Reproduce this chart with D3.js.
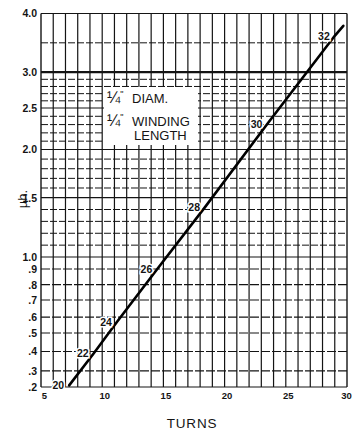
<!DOCTYPE html>
<html>
<head>
<meta charset="utf-8">
<script src="https://cdn.jsdelivr.net/npm/d3@7"></script>
<style>
  html, body { margin: 0; padding: 0; background: #fff; }
  svg { display: block; font-family: "Liberation Sans", Arial, sans-serif; }
</style>
</head>
<body>
<svg id="chart" width="356" height="431"></svg>
<script>
// Turns axis ticks
const turnTicks = [5, 10, 15, 20, 25, 30];
// Inductance axis (µh) ticks and their printed labels
const uhTicks = [0.2, 0.3, 0.4, 0.5, 0.6, 0.7, 0.8, 0.9, 1.0, 1.5, 2.0, 2.5, 3.0, 4.0];
const uhTickLabels = [".2", ".3", ".4", ".5", ".6", ".7", ".8", ".9", "1.0", "1.5", "2.0", "2.5", "3.0", "4.0"];
// Unlabelled horizontal rulings
const uhMinor = [1.1, 1.2, 1.3, 1.4, 1.6, 1.7, 1.8, 1.9, 2.1, 2.2, 2.3, 2.4, 2.6, 2.7, 2.8, 2.9, 3.5];
// Wire gauge marked along the curve
const gauges = [20, 22, 24, 26, 28, 30, 32];
const gaugeTurns = [7.3, 9.3, 11.2, 14.5, 18.4, 23.5, 29.0];
const gaugeUh = [0.21, 0.39, 0.57, 0.90, 1.42, 2.31, 3.62];
// Curve for 1/4" diameter, 1/4" winding length
const curveTurns = [7.3, 9.3, 11.2, 14.5, 18.4, 23.5, 29.0, 29.7];
const curveUh = [0.21, 0.39, 0.57, 0.90, 1.42, 2.31, 3.62, 3.79];

const svg = d3.select("#chart");
const plot = { left: 41, right: 347, top: 13.5, bottom: 387 };

const x = d3.scaleLinear().domain([5, 30]).range([plot.left, plot.right]);

// The printed inductance ruling is roughly square-root spaced; calibrate it
// piecewise at each labelled value (fraction of the plot height from the bottom).
const uhCalib = [0, 0.043, 0.095, 0.1446, 0.187, 0.233, 0.274, 0.316, 0.348, 0.507, 0.636, 0.747, 0.843, 1];
const y = d3.scaleLinear()
  .domain(uhTicks)
  .range(uhCalib.map(f => plot.bottom - f * (plot.bottom - plot.top)));

const ink = "#141414";

// Vertical rulings, one per turn
const grid = svg.append("g");
grid.selectAll("line.v")
  .data(d3.range(5, 31))
  .join("line")
  .attr("x1", d => x(d)).attr("x2", d => x(d))
  .attr("y1", plot.top).attr("y2", plot.bottom)
  .attr("stroke", ink)
  .attr("stroke-width", d => (d === 5 || d === 30) ? 1.4 : 1.2);

// Unlabelled horizontal rulings (broken lines)
grid.selectAll("line.minor")
  .data(uhMinor)
  .join("line")
  .attr("x1", plot.left).attr("x2", plot.right)
  .attr("y1", d => y(d)).attr("y2", d => y(d))
  .attr("stroke", ink)
  .attr("stroke-width", 1)
  .attr("stroke-dasharray", "7,2");

// Labelled horizontal rulings
grid.selectAll("line.major")
  .data(uhTicks)
  .join("line")
  .attr("x1", plot.left).attr("x2", plot.right)
  .attr("y1", d => y(d)).attr("y2", d => y(d))
  .attr("stroke", ink)
  .attr("stroke-width", d => d === 3.0 ? 2.2 : (d === 0.2 || d === 4.0 ? 1.2 : 1.15))
  .attr("stroke-dasharray", d => (d < 1.0 && d > 0.2) ? "9,2" : null);

// Legend box
const box = svg.append("g");
box.append("rect")
  .attr("x", 104).attr("y", 87).attr("width", 94).attr("height", 58)
  .attr("fill", "#fff");
const boxText = box.append("g")
  .attr("font-size", 13)
  .attr("fill", ink);
const l1 = boxText.append("text").attr("x", 107).attr("y", 103);
l1.append("tspan").attr("font-size", 16).text("¼");
l1.append("tspan").attr("font-size", 9).attr("dy", -6).text("\"");
l1.append("tspan").attr("x", 132).attr("dy", 6).text("DIAM.");
const l2 = boxText.append("text").attr("x", 107).attr("y", 125.5);
l2.append("tspan").attr("font-size", 16).text("¼");
l2.append("tspan").attr("font-size", 9).attr("dy", -6).text("\"");
l2.append("tspan").attr("x", 132).attr("dy", 6).text("WINDING");
boxText.append("text").attr("x", 134).attr("y", 140).text("LENGTH");

// Inductance curve
const pts = curveTurns.map((t, i) => ({ t, u: curveUh[i] }));
svg.append("path")
  .datum(pts)
  .attr("d", d3.line().x(d => x(d.t)).y(d => y(d.u)))
  .attr("fill", "none")
  .attr("stroke", "#000")
  .attr("stroke-width", 2.6)
  .attr("stroke-linecap", "round");

// Gauge numbers along the curve
svg.append("g")
  .selectAll("text")
  .data(gauges.map((g, i) => ({ g, t: gaugeTurns[i], u: gaugeUh[i] })))
  .join("text")
  .attr("x", d => x(d.t) - 5)
  .attr("y", d => y(d.u) + 4)
  .attr("text-anchor", "end")
  .attr("font-size", 10.5)
  .attr("font-weight", "bold")
  .attr("fill", ink)
  .attr("stroke", "#fff")
  .attr("stroke-width", 3)
  .attr("paint-order", "stroke")
  .text(d => d.g);

// Axes (labels only; rulings drawn above)
const yAxis = svg.append("g")
  .attr("transform", `translate(${plot.left},0)`)
  .call(d3.axisLeft(y).tickValues(uhTicks).tickFormat((d, i) => uhTickLabels[i]).tickSize(0).tickPadding(4));
yAxis.select(".domain").remove();
yAxis.selectAll("text")
  .attr("font-family", "\"Liberation Sans\", Arial, sans-serif")
  .attr("font-size", 10.5)
  .attr("font-weight", "bold")
  .attr("fill", ink);

const xAxis = svg.append("g")
  .attr("transform", `translate(0,${plot.bottom})`)
  .call(d3.axisBottom(x).tickValues(turnTicks).tickSize(0).tickPadding(5));
xAxis.select(".domain").remove();
xAxis.selectAll("text")
  .attr("font-family", "\"Liberation Sans\", Arial, sans-serif")
  .attr("font-size", 9.5)
  .attr("font-weight", "bold")
  .attr("fill", ink)
  .attr("dx", d => d === 5 ? 3 : (d === 30 ? -1 : 2));

// Axis titles
svg.append("text")
  .attr("x", 192).attr("y", 428)
  .attr("text-anchor", "middle")
  .attr("font-size", 13.5)
  .attr("letter-spacing", 0.8)
  .attr("fill", ink)
  .text("TURNS");

svg.append("text")
  .attr("transform", "translate(27,199) rotate(-90)")
  .attr("text-anchor", "middle")
  .attr("font-size", 13)
  .attr("fill", ink)
  .text("µh.");
</script>
</body>
</html>
